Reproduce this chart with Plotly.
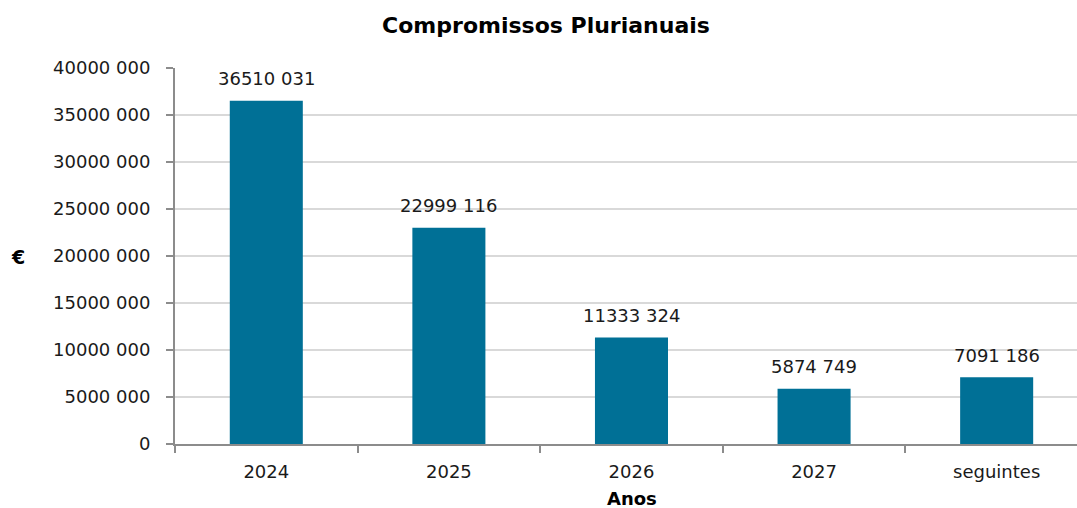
import plotly.graph_objects as go

categories = ["2024", "2025", "2026", "2027", "seguintes"]
values = [36510031, 22999116, 11333324, 5874749, 7091186]
value_labels = ["36510 031", "22999 116", "11333 324", "5874 749", "7091 186"]
y_tickvals = [0, 5000000, 10000000, 15000000, 20000000, 25000000, 30000000, 35000000, 40000000]
y_ticktext = ["0", "5000 000", "10000 000", "15000 000", "20000 000", "25000 000",
              "30000 000", "35000 000", "40000 000"]

FONT = "DejaVu Sans"
BAR = "#007096"
TXT = "#1a1a1a"

W, H = 1077, 508
L, T, B = 175, 68, 64
PW, PH = W - L, H - T - B

fig = go.Figure(go.Bar(
    x=list(range(len(categories))), y=values,
    marker=dict(color=BAR, line=dict(width=0)),
    width=0.4, hoverinfo="skip",
))

annotations = [dict(x=i, y=v, xref="x", yref="y", text=t, showarrow=False,
                    xanchor="center", yanchor="middle", yshift=22,
                    font=dict(family=FONT, size=18, color=TXT))
               for i, (v, t) in enumerate(zip(values, value_labels))]
annotations.append(dict(text="<b>€</b>", xref="paper", yref="paper",
                        x=(18 - L) / PW, y=(H - B - 257) / PH,
                        xanchor="center", yanchor="middle", showarrow=False,
                        font=dict(family=FONT, size=19, color="black")))
annotations.append(dict(text="<b>Anos</b>", xref="paper", yref="paper",
                        x=(632 - L) / PW, y=(H - B - 498) / PH,
                        xanchor="center", yanchor="middle", showarrow=False,
                        font=dict(family=FONT, size=18, color="black")))

fig.update_layout(
    width=W, height=H,
    margin=dict(l=L, r=0, t=T, b=B, autoexpand=False),
    paper_bgcolor="white", plot_bgcolor="white",
    title=dict(text="<b>Compromissos Plurianuais</b>", x=546 / W, xanchor="center",
               y=1 - 25 / H, yanchor="middle", font=dict(family=FONT, size=22, color="black")),
    font=dict(family=FONT, size=18, color=TXT),
    showlegend=False,
    hovermode=False,
    annotations=annotations,
)
fig.update_xaxes(
    range=[-0.5, 4.44], automargin=False,
    tickmode="array", tickvals=list(range(len(categories))), ticktext=categories,
    showgrid=False, showline=True, linecolor="#8c8c8c", linewidth=2,
    ticks="", tickfont=dict(family=FONT, size=18, color=TXT),
    ticklabelstandoff=10,
    zeroline=False,
)
fig.update_xaxes(minor=dict(tickmode="array", tickvals=[-0.5, 0.5, 1.5, 2.5, 3.5],
                            ticks="outside", ticklen=7, tickcolor="#8c8c8c", tickwidth=1.5))
fig.update_yaxes(
    range=[0, 40000000], automargin=False,
    tickmode="array", tickvals=y_tickvals, ticktext=y_ticktext,
    showgrid=True, gridcolor="#d9d9d9", gridwidth=1.5,
    showline=True, linecolor="#8c8c8c", linewidth=2,
    ticks="outside", ticklen=7, tickcolor="#8c8c8c", tickwidth=1.5,
    tickfont=dict(family=FONT, size=18, color=TXT),
    ticklabelstandoff=12,
    zeroline=False,
)

fig.write_html("out.html", config={"displayModeBar": False},
               post_script="document.body.style.margin='0';document.body.style.overflow='hidden';")
